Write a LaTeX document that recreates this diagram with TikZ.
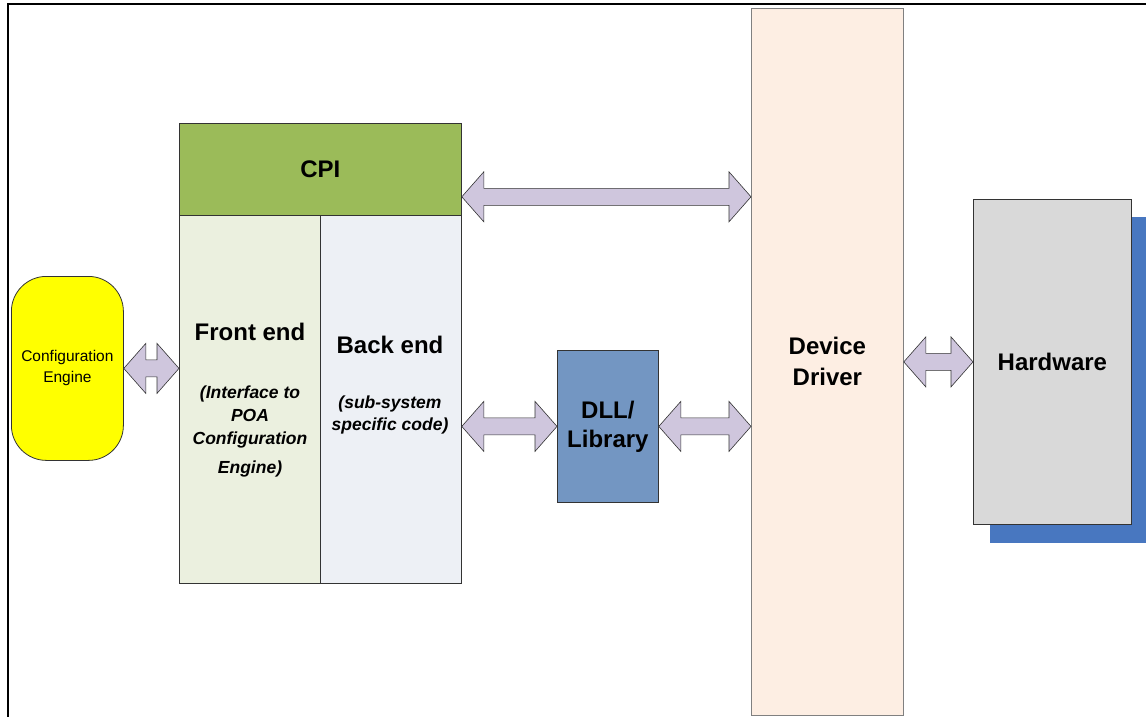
\documentclass[tikz,border=0pt]{standalone}
\usepackage{fontspec}
\setmainfont{Liberation Sans}
\usetikzlibrary{positioning, calc}

\definecolor{engineyellow}{HTML}{FFFF00}
\definecolor{cpigreen}{HTML}{9BBB59}
\definecolor{frontgreen}{HTML}{EBF0DF}
\definecolor{backblue}{HTML}{EDF0F5}
\definecolor{dllblue}{HTML}{7396C2}
\definecolor{driverpeach}{HTML}{FDEEE3}
\definecolor{hwgray}{HTML}{D9D9D9}
\definecolor{hwshadow}{HTML}{4877C0}
\definecolor{arrowlilac}{HTML}{CFC6DD}

\tikzset{
  blk/.style={draw=black!80, line width=0.8pt, inner sep=0pt, anchor=north west},
  ttl/.style={font=\fontsize{24}{29}\selectfont\bfseries, align=center},
  note/.style={font=\fontsize{17.5}{23}\selectfont\bfseries\itshape, align=center},
  biarr/.style={draw=black!80, line width=0.6pt, fill=arrowlilac},
}

% fat two-headed arrow from #1 to #2, at the height of #1
\newcommand{\biarrow}[2]{%
  \draw[biarr] let \p1=(#1), \p2=(#2) in
    (\x1,\y1) -- (\x1+22,\y1+25) -- (\x1+22,\y1+8.5) -- (\x2-22,\y1+8.5)
    -- (\x2-22,\y1+25) -- (\x2,\y1) -- (\x2-22,\y1-25) -- (\x2-22,\y1-8.5)
    -- (\x1+22,\y1-8.5) -- (\x1+22,\y1-25) -- cycle;}

\begin{document}
\begin{tikzpicture}[x=1pt, y=-1pt]
  \useasboundingbox (0,0) rectangle (1146,717);
  \draw[line width=2.5pt] (8,717) -- (8,4) -- (1146,4);

  % blocks
  \node[blk, fill=engineyellow, rounded corners=35pt, minimum width=112, minimum height=184,
        font=\fontsize{15.5}{21}\selectfont, align=center] (engine) at (11,276) {Configuration\\Engine};
  \node[blk, fill=cpigreen, minimum width=282, minimum height=92, ttl] (cpi) at (179,123) {CPI};
  \node[blk, fill=frontgreen, minimum width=141, minimum height=368] (front) at (179,215) {};
  \node[blk, fill=backblue, minimum width=141, minimum height=368] (back) at (320,215) {};
  \node[blk, fill=dllblue, minimum width=101, minimum height=152, ttl] (dll) at (557,350) {DLL/\\Library};
  \node[blk, draw=black!50, fill=driverpeach, minimum width=152, minimum height=707,
        ttl, font=\fontsize{24}{31}\selectfont\bfseries] (dd) at (751,8) {Device\\Driver};
  \fill[hwshadow] (990,217) rectangle (1146,543);
  \node[blk, fill=hwgray, minimum width=158, minimum height=325, ttl] (hw) at (973,199) {Hardware};

  % texts in the two halves
  \node[ttl, anchor=base] (fronttitle) at (250,340) {Front end};
  \node[note] (frontnote) at (250,431) {(Interface to\\POA\\Configuration\\[6pt]Engine)};
  \node[ttl, anchor=base] (backtitle) at (390,353) {Back end};
  \node[note, font=\fontsize{17.5}{22}\selectfont\bfseries\itshape] (backnote) at (390,415) {(sub-system\\specific code)};

  % links
  \biarrow{engine.east}{front.west}
  \biarrow{$(cpi.south east)+(0,-19)$}{dd.west}
  \biarrow{back.east |- dll.west}{dll.west}
  \biarrow{dll.east}{dd.west}
  \biarrow{dd.east}{hw.west}
\end{tikzpicture}
\end{document}
